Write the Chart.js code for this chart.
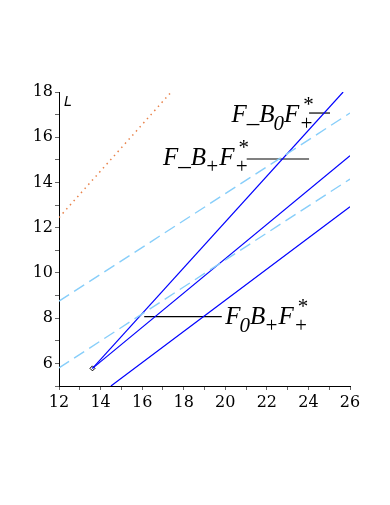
<!DOCTYPE html>
<html><head><meta charset="utf-8">
<script src="https://cdn.jsdelivr.net/npm/chart.js@4.4.0/dist/chart.umd.min.js"></script>
<style>html,body{margin:0;padding:0;background:#fff}#wrap{width:390px;height:505px;position:relative}</style>
</head><body><div id="wrap"><canvas id="c"></canvas></div>
<script>
// axis ranges and tick labels
const xRange = [12, 26];
const yRange = [5, 18];
const xTickLabels = [12, 14, 16, 18, 20, 22, 24, 26];
const yTickLabels = [6, 8, 10, 12, 14, 16, 18];

// series (x, y) endpoints
const orangeX = [12, 17.4];
const orangeY = [12.45, 18];
const dashUpperX = [12, 26];
const dashUpperY = [8.75, 17.07];
const dashLowerX = [12, 26];
const dashLowerY = [5.8, 14.15];
const steepX = [13.61, 25.67];
const steepY = [5.78, 18];
const midX = [13.61, 26];
const midY = [5.78, 15.18];
const lowX = [14.5, 26];
const lowY = [5, 12.93];
const markerX = [13.61];
const markerY = [5.78];

// leader lines for the labels
const lead1X = [24.03, 25.04], lead1Y = [17.07, 17.07];
const lead2X = [21.03, 24.03], lead2Y = [15.04, 15.04];
const lead3X = [16.1, 19.83], lead3Y = [8.07, 8.07];

const pts = (xs, ys) => xs.map((x, i) => ({x, y: ys[i]}));

const labels = [
  {x: 20.3, y: 16.68, segs: [['F'],['_'],['B'],['0','sub'],['F'],['*','+']]},
  {x: 17.0, y: 14.78, segs: [['F'],['_'],['B'],['+','sub'],['F'],['*','+']]},
  {x: 20.0, y: 7.72,  segs: [['F'],['0','sub'],['B'],['+','sub'],['F'],['*','+']]}
];

const textPlugin = {
  id: 'texts',
  afterDatasetsDraw(chart) {
    const {ctx, scales: {x, y}, chartArea} = chart;
    ctx.save();
    ctx.fillStyle = '#000';
    ctx.textBaseline = 'alphabetic';
    ctx.textAlign = 'left';
    const big = 'italic 25px "Liberation Serif"';
    const small = 'italic 21px "Liberation Serif"';
    labels.forEach(l => {
      let px = x.getPixelForValue(l.x);
      const py = y.getPixelForValue(l.y);
      l.segs.forEach(s => {
        if (s.length === 1) {
          ctx.font = big; ctx.fillText(s[0], px, py); px += ctx.measureText(s[0]).width;
        } else if (s[1] === 'sub') {
          ctx.font = small; ctx.fillText(s[0], px - 1, py + 8); px += ctx.measureText(s[0]).width - 1;
        } else {
          ctx.font = small;
          ctx.fillText(s[0], px + 3, py - 11);
          ctx.fillText(s[1], px, py + 8);
          px += Math.max(ctx.measureText(s[0]).width, ctx.measureText(s[1]).width);
        }
      });
    });
    ctx.font = 'oblique 14px "DejaVu Sans"';
    ctx.fillText('L', chartArea.left + 5, chartArea.top + 14);
    ctx.restore();
  }
};

const line = (data, color, extra) => Object.assign({data, borderColor: color, borderWidth: 1.2, showLine: true, pointRadius: 0, fill: false}, extra || {});

new Chart(document.getElementById('c'), {
  type: 'scatter',
  data: {
    datasets: [
      line(pts(orangeX, orangeY), '#E8824A', {borderDash: [1.5, 4], borderWidth: 1.5}),
      line(pts(dashUpperX, dashUpperY), '#87CEFA', {borderDash: [12, 6], borderWidth: 1.4}),
      line(pts(dashLowerX, dashLowerY), '#87CEFA', {borderDash: [12, 6], borderWidth: 1.4}),
      line(pts(steepX, steepY), '#0000FF'),
      line(pts(midX, midY), '#0000FF'),
      line(pts(lowX, lowY), '#0000FF'),
      line(pts(lead1X, lead1Y), '#000000'),
      line(pts(lead2X, lead2Y), '#808080', {borderWidth: 2}),
      line(pts(lead3X, lead3Y), '#000000'),
      {data: pts(markerX, markerY), pointStyle: 'rectRot', pointRadius: 2.5, borderColor: '#000', backgroundColor: '#fff', borderWidth: 1, showLine: false}
    ]
  },
  options: {
    responsive: true, maintainAspectRatio: false, animation: false,
    layout: {padding: {top: 92, right: 40, bottom: 89, left: 0}},
    plugins: {legend: {display: false}, tooltip: {enabled: false}},
    scales: {
      x: {
        type: 'linear', min: xRange[0], max: xRange[1],
        afterFit: s => { s.height = 30; },
        grid: {drawOnChartArea: false, drawTicks: true, tickLength: 4, color: '#666'},
        border: {color: '#000', width: 1},
        ticks: {stepSize: 1, autoSkip: false, maxRotation: 0, padding: 3, color: '#000',
          font: {family: '"DejaVu Serif"', size: 16},
          callback: v => xTickLabels.includes(v) ? String(v) : ''}
      },
      y: {
        type: 'linear', min: yRange[0], max: yRange[1],
        afterFit: s => { s.width = 59; },
        grid: {drawOnChartArea: false, drawTicks: true, tickLength: 4, color: '#666'},
        border: {color: '#000', width: 1},
        ticks: {stepSize: 1, autoSkip: false, padding: 2, color: '#000',
          font: {family: '"DejaVu Serif"', size: 16},
          callback: v => yTickLabels.includes(v) ? String(v) : ''}
      }
    }
  },
  plugins: [textPlugin]
});
</script></body></html>
